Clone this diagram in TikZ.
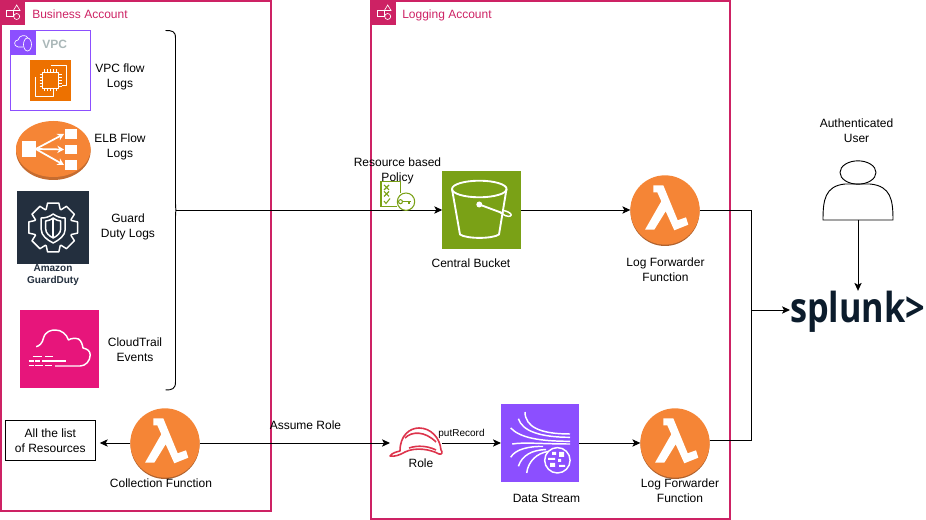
\documentclass[tikz,border=0pt]{standalone}
\usepackage{fontspec}
\usepackage{graphicx}
\setmainfont{Liberation Sans}
\newfontfamily\splunkfont{Open Sans}
\usetikzlibrary{arrows.meta, calc, shapes.geometric}

\definecolor{accountRed}{HTML}{CD2264}
\definecolor{vpcPurple}{HTML}{8C4FFF}
\definecolor{vpcGray}{HTML}{AAB7B8}
\definecolor{ecOrange}{HTML}{ED7100}
\definecolor{awsOrange}{HTML}{F58536}
\definecolor{awsEdge}{HTML}{B0622E}
\definecolor{guardNavy}{HTML}{232F3E}
\definecolor{trailPink}{HTML}{E7157B}
\definecolor{bucketGreen}{HTML}{7AA116}
\definecolor{roleRed}{HTML}{DD344C}
\definecolor{splunkInk}{HTML}{0C1C2C}

\tikzset{
    labeltext/.style={align=center, inner sep=0pt, font=\fontsize{9}{11.25}\selectfont},
    flow/.style={line width=0.7pt, -{Stealth[length=6pt, width=5.5pt, inset=1.5pt]}},
    wire/.style={line width=0.7pt},
    accountline/.style={draw=accountRed, line width=0.9pt},
    iconbox/.style={inner sep=0pt, outer sep=0pt, minimum size=#1*0.75pt},
    glyph/.style={draw=white, line width=1.1pt, line join=round},
    lambdanode/.style={circle, fill=awsOrange, inner sep=0pt, outer sep=0pt, minimum size=52pt},
}

\begin{document}
\begin{tikzpicture}[x=0.75pt, y=-0.75pt]

    % Determines the boundries
    \path[use as bounding box] (0,0) rectangle (926,520);

    % Accounts
    \draw[accountline] (1,1) rectangle (271,511);
    \draw[accountline] (371,1) rectangle (730,519);
    \foreach \x in {0,371}{
        \fill[accountRed] (\x,0) rectangle +(25,25);
        \begin{scope}[shift={(\x,0)}, line width=0.5pt]
            \draw[white] (6.5,10) rectangle (13,16.5);
            \draw[white] (16.7,5) -- (20,10.5) -- (13.4,10.5) -- cycle;
            \draw[white] (16.7,16.5) circle (3);
        \end{scope}
    }
    \node[labeltext, anchor=west, text=accountRed] (businessName) at (32,14) {Business Account};
    \node[labeltext, anchor=west, text=accountRed] (loggingName) at (402,15) {Logging Account};

    % VPC
    \draw[vpcPurple, line width=0.7pt] (10.5,30.5) rectangle (90.5,110);
    \fill[vpcPurple] (10,30) rectangle (35.5,55.5);
    \draw[white, line width=0.5pt] (23,47) -- (18,47) .. controls (13,46) and (14,40) .. (18,40)
        .. controls (19,35) and (26,34) .. (28,38);
    \draw[white, line width=0.5pt] (27.5,44.5) ellipse (4 and 6.5);
    \node[anchor=west, inner sep=0pt, text=vpcGray, font=\fontsize{9}{11}\selectfont\bfseries] (vpcName) at (42,44) {VPC};
    \node[iconbox=41, fill=ecOrange] (ec2) at (50.5,80.5) {};
    \begin{scope}[shift={(ec2.center)}]
        \draw[glyph, line width=0.5pt] (-8,-8) rectangle (8,8);
        \foreach \t in {-6,-3,0,3,6}{
            \draw[white, line width=0.4pt] (\t,-11) -- (\t,-8) (\t,8) -- (\t,11)
                (-11,\t) -- (-8,\t) (8,\t) -- (11,\t);
        }
        \draw[glyph, line width=0.5pt] (0,-15.5) -- (16,-15.5) -- (16,4.5) -- (11,4.5);
        \draw[glyph, line width=0.5pt] (-15.5,-3) -- (-15.5,15.5) -- (2.5,15.5) -- (2.5,11);
    \end{scope}

    % ELB
    \fill[awsEdge!70!awsOrange] (53.3,151) ellipse (37.3 and 29);
    \fill[awsOrange] (53.3,149) ellipse (37.3 and 28);
    \begin{scope}[white]
        \fill (21.7,141) rectangle (35.7,157);
        \fill (65,129) rectangle (77,139);
        \fill (65,145) rectangle (77,154);
        \fill (65,160) rectangle (77,170);
        \draw[line width=1.3pt, -{Stealth[length=5pt, width=5.5pt]}] (35.7,149) -- (64,134);
        \draw[line width=1.3pt, -{Stealth[length=5pt, width=5.5pt]}] (35.7,149) -- (64,149.5);
        \draw[line width=1.3pt, -{Stealth[length=5pt, width=5.5pt]}] (35.7,149) -- (64,165);
    \end{scope}

    % GuardDuty
    \node[iconbox=72.5, fill=guardNavy] (guard) at (53.2,227.5) {};
    \begin{scope}[shift={(guard.center)}]
        \draw[glyph] (-21:19.5)
            \foreach \a in {0,45,...,315}{
                -- (\a-21:19.5) -- (\a-13:25) -- (\a+13:25) -- (\a+21:19.5)
            } -- cycle;
        \draw[glyph] (0,-13.5) .. controls (-4,-10.5) and (-8,-9.5) .. (-12,-9.5) -- (-12,2)
            .. controls (-12,8) and (-6,12.5) .. (0,15.5)
            .. controls (6,12.5) and (12,8) .. (12,2) -- (12,-9.5)
            .. controls (8,-9.5) and (4,-10.5) .. (0,-13.5) -- cycle;
        \draw[glyph] (0,-9.5) .. controls (-3,-7.5) and (-5,-6.5) .. (-7.5,-6.5) -- (-7.5,1.5)
            .. controls (-7.5,5.5) and (-4,8.5) .. (0,10.5)
            .. controls (4,8.5) and (7.5,5.5) .. (7.5,1.5) -- (7.5,-6.5)
            .. controls (5,-6.5) and (3,-7.5) .. (0,-9.5) -- cycle;
        \draw[glyph] (0,-9.5) -- (0,10.5);
    \end{scope}
    \node[align=center, inner sep=0pt, text=guardNavy, font=\fontsize{7.5}{9}\selectfont\bfseries] (guardName) at (53,275) {Amazon\\GuardDuty};

    % CloudTrail
    \node[iconbox=78.5, fill=trailPink] (trail) at (59.5,349) {};
    \begin{scope}[shift={(trail.center)}]
        \draw[glyph] (-23.3,-2.3) .. controls (-20,-3) and (-17,-6) .. (-16,-11)
            .. controls (-14,-18) and (-8,-19) .. (-4.3,-19)
            .. controls (2,-19) and (7,-15) .. (9,-9)
            .. controls (12,-11) and (16,-11) .. (19,-10)
            .. controls (22,-8) and (23,-4) .. (23.5,-1)
            .. controls (28,0) and (30.7,2) .. (30.7,6)
            .. controls (30.7,12) and (26,17) .. (20.7,17) -- (-4.3,17);
        \draw[glyph, line width=1.1pt] (-27,7.7) -- (-17.5,7.7) (-14.5,7.7) -- (-7,7.7)
            (-31,12) -- (-26,12) (-24.5,12) -- (-19.5,12) (-17.5,12) -- (6,12)
            (-31,16.7) -- (-26,16.7) (-24.5,16.7) -- (-17,16.7) (-14.5,16.7) -- (-7.5,16.7);
    \end{scope}

    % Brace
    \coordinate (braceTip) at (176,210);
    \draw[wire] (165.5,30.5) .. controls (172,30.5) and (175.5,31) .. (175.5,38)
        -- (175.5,203) .. controls (175.5,208) and (176,210) .. (braceTip)
        .. controls (176,210) and (175.5,212) .. (175.5,217)
        -- (175.5,382) .. controls (175.5,389) and (172,390) .. (165.5,390);

    % Main nodes
    \node[iconbox=78.5, fill=bucketGreen] (bucket) at (481.5,210) {};
    \node[iconbox=78.5, fill=vpcPurple] (stream) at (540.2,443) {};
    \node[draw, line width=0.7pt, minimum width=67.5pt, minimum height=30pt, inner sep=0pt, labeltext] (resources) at (50.3,440.3) {All the list\\of Resources};
    \foreach \n/\x/\y in {collect/165/443, fwdTop/665/210, fwdBot/675/443}{
        \fill[awsEdge] (\x,\y+1.5) circle (34.5);
        \node[lambdanode] (\n) at (\x,\y) {};
        \fill[white, shift={(\x,\y)}] (-11.7,-24.7) -- (-1.7,-24.7) -- (12.7,10.3) -- (21,7.3)
            -- (23.3,14.7) -- (9.3,20.3) -- (0.7,1.3) -- (-10.7,19.7) -- (-20,19.7) -- (-3.7,-8.7)
            -- (-7.7,-17.7) -- (-11.7,-17.7) -- cycle;
    }
    \node[inner sep=0pt, outer sep=0pt, minimum width=39pt, minimum height=22pt] (role) at (416,443) {};
    \node[inner sep=0pt, outer sep=0pt, text=splunkInk, font=\fontsize{31}{31}\selectfont\splunkfont\bfseries] (splunk) at (857.5,311.5) {\resizebox{101.25pt}{\height}{splunk>}};

    % User
    \node[ellipse, draw, line width=0.7pt, fill=white, minimum width=27pt, minimum height=17.5pt, inner sep=0pt] (userHead) at (858,172.5) {};
    \coordinate (userFoot) at (858,220);
    \draw[wire] (823,220) .. controls (823,200) and (825,186) .. (845,184)
        -- (870,184) .. controls (891,186) and (893,200) .. (893,220) -- cycle;

    % Connectors
    \coordinate (joint) at (751,310);
    \draw[flow] (braceTip) -- (bucket.west);
    \draw[flow] (bucket.east) -- (fwdTop.west);
    \draw[flow] (stream.east) -- (fwdBot.west);
    \draw[flow] (role.east) -- (stream.west);
    \draw[flow] (collect.east) -- (role.west);
    \draw[flow, shorten >=3pt] (collect.west) -- (collect.west -| resources.east);
    \draw[wire] (fwdTop.east) -- (fwdTop.east -| joint) -- (joint);
    \draw[wire] (fwdBot.5) -- (fwdBot.5 -| joint) -- (joint);
    \draw[flow] (joint) -- (joint -| splunk.west);
    \draw[flow] (userFoot) -- (userFoot |- splunk.north);

    % Bucket icon
    \begin{scope}[shift={(bucket.center)}]
        \draw[glyph, line width=1.4pt] (-2.2,-21) ellipse (27.3 and 8.3);
        \draw[glyph, line width=1.4pt] (-29.5,-21) -- (-21.5,24.5) .. controls (-15,29) and (11,29) .. (17.5,24.5) -- (25,-21);
        \fill[white] (-2.2,-5.5) circle (3);
        \draw[glyph, line width=1.4pt] (-2.2,-5.5) -- (22,3.5);
        \draw[glyph, line width=1.1pt] (22,0.5) .. controls (29,2) and (31,5) .. (29,6) .. controls (27,7) and (23,6) .. (18,2);
    \end{scope}

    % Policy icon
    \begin{scope}[bucketGreen, line width=0.8pt]
        \draw (397,206.7) -- (381,206.7) -- (381,181.7) -- (400.7,181.7) -- (400.7,193);
        \draw[fill=white] (406,201.7) circle (8.7);
        \draw (400.5,201.7) circle (2);
        \draw (402.5,201.7) -- (411,201.7) (409,201.7) -- (409,204);
        \draw (384,185) -- (389,190) (389,185) -- (384,190);
        \draw (384,191.5) -- (389,196.5) (389,191.5) -- (384,196.5);
        \draw (384,201) -- (386,203.5) -- (390,198.5);
    \end{scope}

    % Role icon
    \begin{scope}[roleRed, line width=1.2pt, line join=round]
        \draw (390,456) .. controls (392,453) and (396,452) .. (400,451)
            .. controls (400,435) and (410,428) .. (419,428)
            .. controls (431,428) and (440,438) .. (441,450)
            .. controls (443,452) and (442,455) .. (439,454)
            .. controls (430,449) and (415,447) .. (405,452)
            .. controls (400,455) and (394,457) .. (390,456) -- cycle;
        \draw (405,438) .. controls (412,431) and (425,431) .. (436,442);
        \draw (409,448) .. controls (418,445) and (428,446) .. (436,450);
    \end{scope}

    % Stream icon
    \begin{scope}[shift={(stream.center)}]
        \draw[glyph] (-15.2,-31) .. controls (-15,-16) and (0,-9) .. (29.8,-9);
        \draw[glyph] (-21.8,-24.3) .. controls (-18,-12) and (0,-5.7) .. (29.8,-5.7);
        \draw[glyph] (-29.5,-15) .. controls (-20,-5) and (0,-1.7) .. (29.8,-1.7);
        \draw[glyph] (-28,1) .. controls (-15,-1) and (0,1) .. (29.8,1);
        \draw[glyph] (-29.5,14.3) .. controls (-25,6) and (-10,3) .. (3,3.5);
        \draw[glyph] (-21.8,23.3) .. controls (-18,12) and (-8,7) .. (6,6.5);
        \draw[glyph] (-13.5,30) .. controls (-12,18) and (-3,10) .. (8,8.5);
        \draw[glyph, fill=vpcPurple] (17.2,17.3) circle (12.7);
        \fill[white] (12,9) rectangle (16,12) (19,9) rectangle (24,14)
            (8,15) rectangle (15,17) (18,16) rectangle (21,19)
            (10,20) rectangle (15,24) (19,22) rectangle (25,24);
    \end{scope}

    % Labels
    \foreach \n/\x/\y/\t in {
        vpcLabel/120/76.5/{VPC flow\\Logs},
        elbLabel/120/146.5/{ELB Flow\\Logs},
        guardLabel/128/226.5/{Guard\\Duty Logs},
        trailLabel/135/350/{CloudTrail\\Events},
        collectLabel/161/483/{Collection Function},
        assumeLabel/305.5/425/{Assume Role},
        policyLabel/397.5/170.5/{Resource based\\Policy},
        bucketLabel/471/263/{Central Bucket},
        roleLabel/421/463/{Role},
        streamLabel/546.5/498/{Data Stream},
        fwdTopLabel/665.5/269.5/{Log Forwarder\\Function},
        fwdBotLabel/680/490.5/{Log Forwarder\\Function},
        userLabel/856.5/130.5/{Authenticated\\User}}{
        \node[labeltext] (\n) at (\x,\y) {\t};
    }
    \node[inner sep=0pt, font=\fontsize{7.5}{9}\selectfont] (putLabel) at (461.5,434) {putRecord};

\end{tikzpicture}
\end{document}
